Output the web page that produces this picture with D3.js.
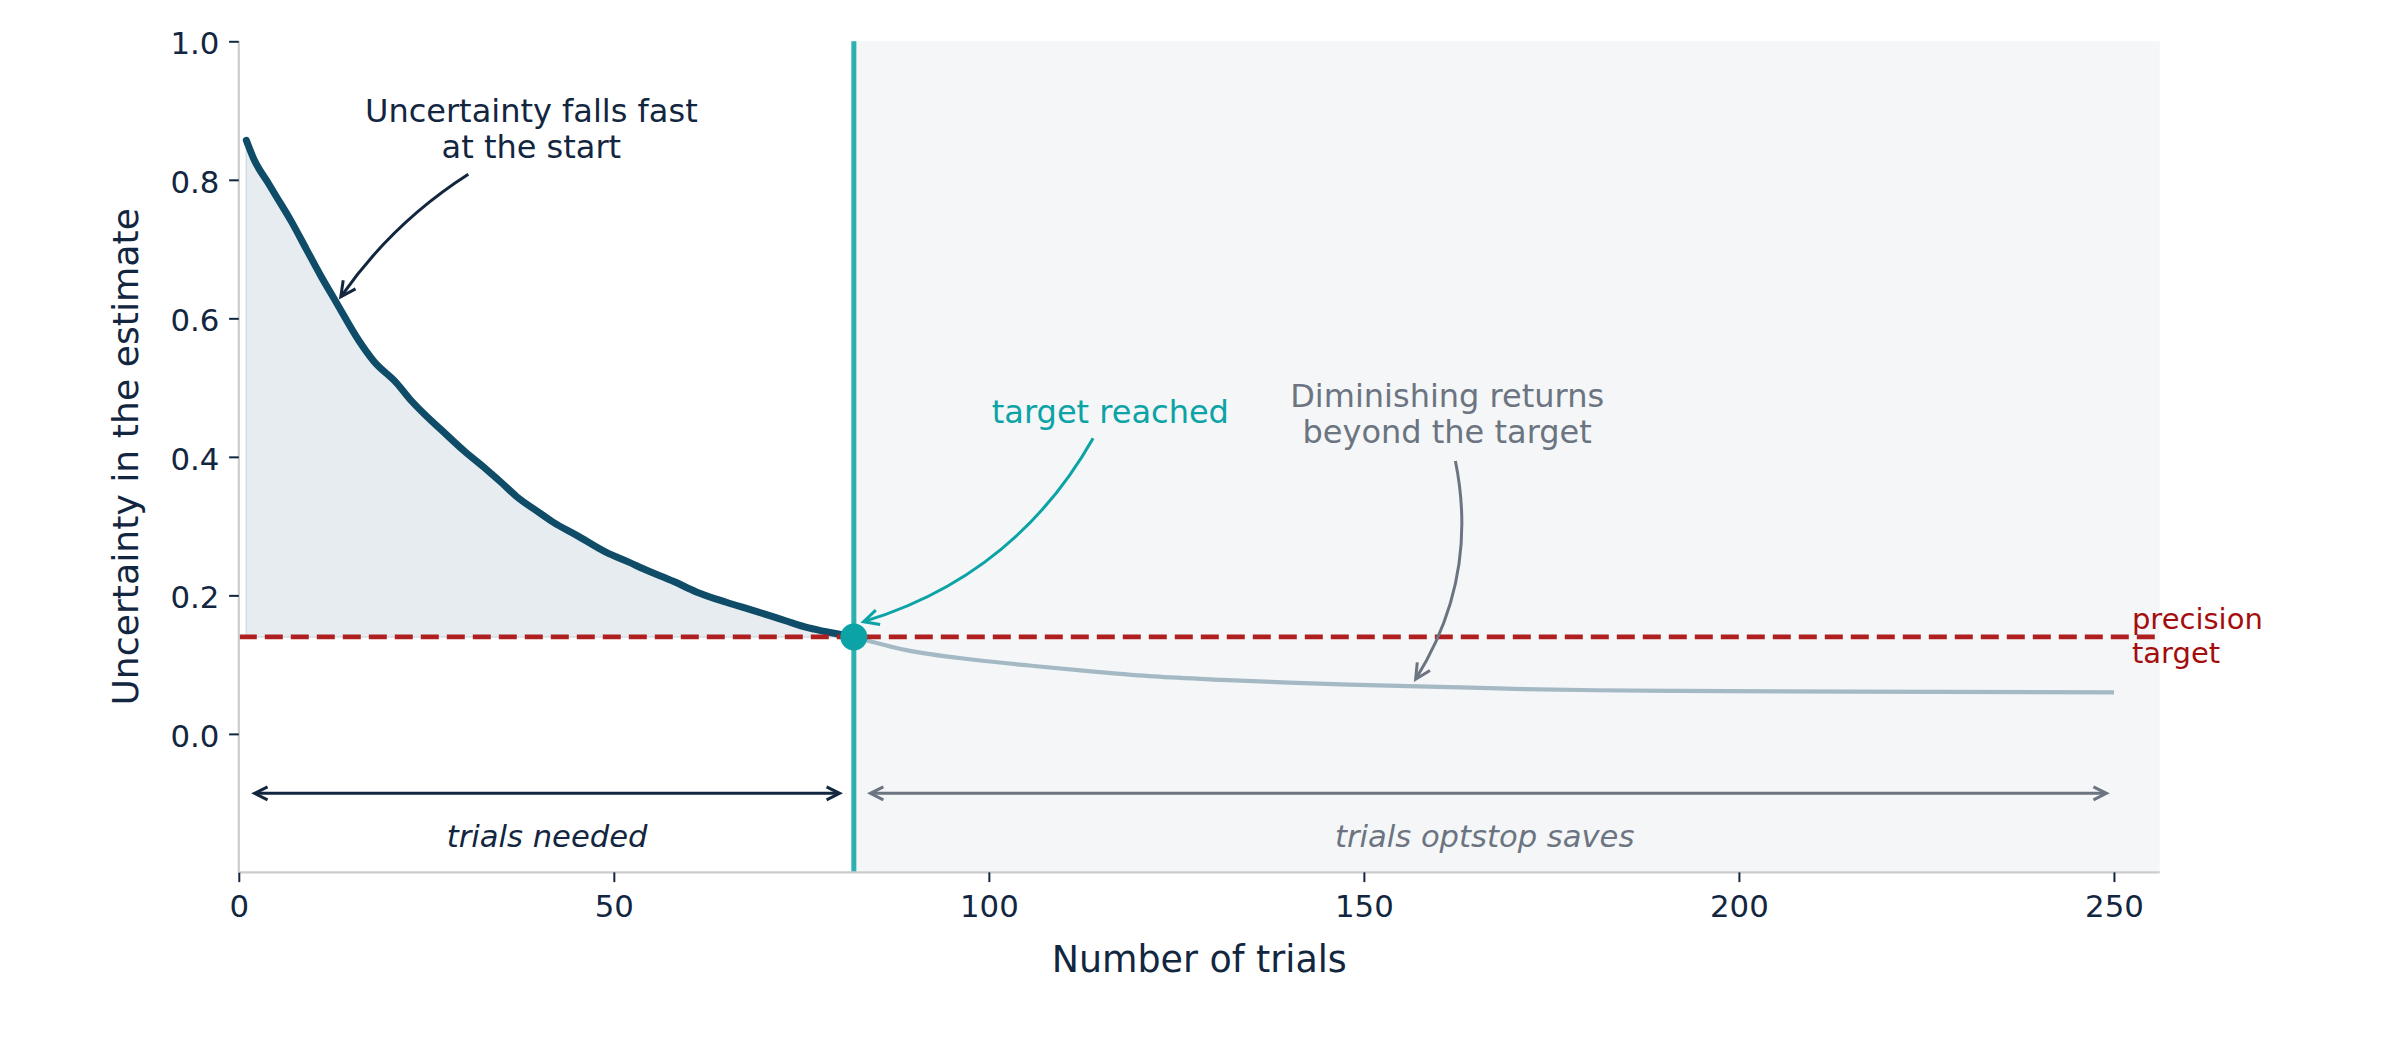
<!DOCTYPE html>
<html>
<head>
<meta charset="utf-8">
<script src="https://cdn.jsdelivr.net/npm/d3@7"></script>
<style>
  html, body { margin: 0; padding: 0; background: #ffffff; }
  svg { display: block; font-family: "DejaVu Sans", sans-serif; }
</style>
</head>
<body>
<svg id="chart" width="2400" height="1040"></svg>
<script>
// ---------------- data ----------------
const trialsToTarget = [1, 2, 4, 5, 7, 9, 11, 13, 16, 18, 21, 23, 25, 27, 30, 33, 35, 37, 40, 42, 45, 49, 52, 54, 58, 61, 65, 68, 71, 73, 76, 79, 82];
const uncertaintyToTarget = [0.857, 0.830, 0.794, 0.776, 0.740, 0.700, 0.660, 0.623, 0.568, 0.538, 0.507, 0.481, 0.459, 0.439, 0.409, 0.382, 0.363, 0.343, 0.320, 0.305, 0.287, 0.262, 0.248, 0.238, 0.220, 0.205, 0.190, 0.180, 0.170, 0.163, 0.153, 0.146, 0.140];
const trialsBeyond = [82, 89, 98, 106, 114, 122, 131, 140, 148, 160, 170, 181, 192, 215, 250];
const uncertaintyBeyond = [0.140, 0.121, 0.107, 0.098, 0.090, 0.083, 0.078, 0.074, 0.071, 0.068, 0.065, 0.063, 0.062, 0.061, 0.060];
const precisionTarget = 0.14;
const stopTrial = 82;
const xTicks = [0, 50, 100, 150, 200, 250];
const yTicks = [0.0, 0.2, 0.4, 0.6, 0.8, 1.0];
const xDomain = [0, 256.1];
const yDomain = [-0.2, 1.0];

// ---------------- layout ----------------
const svg = d3.select("#chart");
const L = 238.8, R = 2159.7, T = 41.3, B = 872.4;
const x = d3.scaleLinear().domain(xDomain).range([L, R]);
const y = d3.scaleLinear().domain(yDomain).range([B, T]);

const C = {
  navy: "#13263f",
  curve: "#0f4c68",
  light: "#a4b9c4",
  fill: "#e7ecf0",
  shade: "#f4f6f8",
  teal: "#0ba3a5",
  tealLine: "#2fb0b0",
  red: "#b01f1f",
  redText: "#a30d0d",
  gray: "#6b7480",
  spine: "#cccccc"
};

// shaded region beyond target
svg.append("rect")
  .attr("x", x(stopTrial)).attr("y", y(yDomain[1]))
  .attr("width", x(xDomain[1]) - x(stopTrial))
  .attr("height", y(yDomain[0]) - y(yDomain[1]))
  .attr("fill", C.shade);

const dark = trialsToTarget.map((n, i) => ({ n, v: uncertaintyToTarget[i] }));
const beyond = trialsBeyond.map((n, i) => ({ n, v: uncertaintyBeyond[i] }));

// fill under curve down to target
svg.append("path")
  .datum(dark)
  .attr("d", d3.area().curve(d3.curveMonotoneX).x(d => x(d.n)).y0(y(precisionTarget)).y1(d => y(d.v)))
  .attr("fill", C.fill)
  .attr("stroke", "#d3dde5")
  .attr("stroke-width", 1.5);

// vertical line at stop
svg.append("line")
  .attr("x1", x(stopTrial)).attr("x2", x(stopTrial))
  .attr("y1", y(yDomain[0])).attr("y2", y(yDomain[1]))
  .attr("stroke", C.tealLine).attr("stroke-width", 5);

// curves
const line = d3.line().curve(d3.curveMonotoneX).x(d => x(d.n)).y(d => y(d.v));
svg.append("path").datum(beyond).attr("d", line)
  .attr("fill", "none").attr("stroke", C.light).attr("stroke-width", 4.2)
  .attr("stroke-linejoin", "round");
svg.append("path").datum(dark).attr("d", line)
  .attr("fill", "none").attr("stroke", C.curve).attr("stroke-width", 7)
  .attr("stroke-linejoin", "round").attr("stroke-linecap", "round");

// precision target dashed line
svg.append("line")
  .attr("x1", x(xDomain[0])).attr("x2", x(xDomain[1]))
  .attr("y1", y(precisionTarget)).attr("y2", y(precisionTarget))
  .attr("stroke", C.red).attr("stroke-width", 4.6)
  .attr("stroke-dasharray", "18 8");

// dot
svg.append("circle")
  .attr("cx", x(stopTrial)).attr("cy", y(precisionTarget)).attr("r", 13.5)
  .attr("fill", C.teal);

// ---------------- arrows ----------------
function head(g, tipX, tipY, dirX, dirY, len, hw, color, sw) {
  const m = Math.hypot(dirX, dirY); const ux = dirX / m, uy = dirY / m;
  const bx = tipX - ux * len, by = tipY - uy * len;
  const px = -uy, py = ux;
  g.append("path")
    .attr("d", `M${bx + px * hw},${by + py * hw}L${tipX},${tipY}L${bx - px * hw},${by - py * hw}`)
    .attr("fill", "none").attr("stroke", color).attr("stroke-width", sw)
    .attr("stroke-linejoin", "miter");
}
function curvedArrow(n1, v1, n2, v2, rad, color) {
  const x1 = x(n1), y1 = y(v1), x2 = x(n2), y2 = y(v2);
  const dx = x2 - x1, dy = y2 - y1;
  const cx = (x1 + x2) / 2 + rad * dy, cy = (y1 + y2) / 2 - rad * dx;
  const g = svg.append("g");
  g.append("path").attr("d", `M${x1},${y1}Q${cx},${cy} ${x2},${y2}`)
    .attr("fill", "none").attr("stroke", color).attr("stroke-width", 3);
  head(g, x2, y2, x2 - cx, y2 - cy, 15, 7.5, color, 3);
}
function doubleArrow(n1, n2, v, color) {
  const g = svg.append("g");
  const x1 = x(n1), x2 = x(n2), yy = y(v);
  g.append("line").attr("x1", x1 + 2).attr("x2", x2 - 2).attr("y1", yy).attr("y2", yy)
    .attr("stroke", color).attr("stroke-width", 3);
  head(g, x1, yy, -1, 0, 13, 6.5, color, 3);
  head(g, x2, yy, 1, 0, 13, 6.5, color, 3);
}

curvedArrow(30.6, 0.808, 13.6, 0.631, -0.1, C.navy);
curvedArrow(113.9, 0.427, 83.3, 0.162, 0.2, C.teal);
curvedArrow(162.2, 0.394, 156.9, 0.079, 0.2, C.gray);

doubleArrow(2.1, 80.1, -0.0858, C.navy);
doubleArrow(84.2, 249.0, -0.0858, C.gray);

// ---------------- text ----------------
function multiText(n, v, lines, size, color, anchor, lh, style) {
  const t = svg.append("text")
    .attr("x", x(n)).attr("y", y(v))
    .attr("font-size", size).attr("fill", color)
    .attr("text-anchor", anchor)
    .attr("font-style", style || "normal");
  lines.forEach((s, i) => {
    t.append("tspan").attr("x", x(n)).attr("dy", i === 0 ? 0 : lh).text(s);
  });
}
multiText(39, 0.884, ["Uncertainty falls fast", "at the start"], 32, C.navy, "middle", 36.7);
multiText(116.2, 0.449, ["target reached"], 32, C.teal, "middle", 36.7);
multiText(161.1, 0.4725, ["Diminishing returns", "beyond the target"], 32, C.gray, "middle", 36.7);
multiText(252.4, 0.1515, ["precision", "target"], 29, C.redText, "start", 33.7);
multiText(41.1, -0.1637, ["trials needed"], 30.6, C.navy, "middle", 36.7, "italic");
multiText(166.1, -0.1637, ["trials optstop saves"], 30.6, C.gray, "middle", 36.7, "italic");

// ---------------- axes ----------------
const xAxis = svg.append("g").attr("transform", `translate(0,${B})`)
  .call(d3.axisBottom(x).tickValues(xTicks).tickFormat(d3.format("d")).tickSize(9.7).tickSizeOuter(0).tickPadding(9.7));
const yAxis = svg.append("g").attr("transform", `translate(${L},0)`)
  .call(d3.axisLeft(y).tickValues(yTicks).tickFormat(d3.format(".1f")).tickSize(9.7).tickSizeOuter(0).tickPadding(9.7));

[xAxis, yAxis].forEach(a => {
  a.select(".domain").attr("stroke", C.spine).attr("stroke-width", 2.2);
  a.selectAll(".tick line").attr("stroke", C.navy).attr("stroke-width", 2);
  a.selectAll(".tick text").attr("fill", C.navy).attr("font-size", 30.8)
    .attr("font-family", "DejaVu Sans");
});
xAxis.selectAll(".tick text").attr("dy", "0.82em");
yAxis.selectAll(".tick text").attr("dy", "0.4em");
xAxis.select(".domain").attr("d", `M${L},0H${R}`);
yAxis.select(".domain").attr("d", `M0,${B}V${T}`);

svg.append("text")
  .attr("x", (L + R) / 2).attr("y", 971.5)
  .attr("text-anchor", "middle").attr("font-size", 36.4).attr("fill", C.navy)
  .text("Number of trials");
svg.append("text")
  .attr("transform", `translate(138,${(T + B) / 2}) rotate(-90)`)
  .attr("text-anchor", "middle").attr("font-size", 36.2).attr("fill", C.navy)
  .text("Uncertainty in the estimate");
</script>
</body>
</html>
